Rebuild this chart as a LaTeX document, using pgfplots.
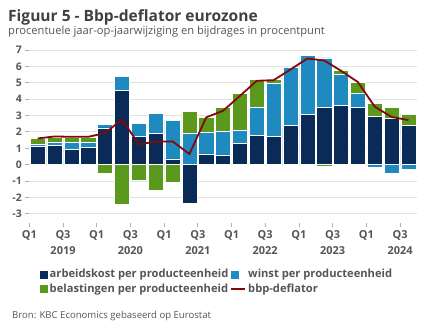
\documentclass[border=0pt]{standalone}
\usepackage{pgfplots}
\usepackage{pgfplotstable}
\pgfplotsset{compat=1.18}
\usepackage{fontspec}
\setmainfont{Open Sans}
\definecolor{navyC}{HTML}{0A2B58}
\definecolor{blueC}{HTML}{1E8ABF}
\definecolor{greenC}{HTML}{5A991C}
\definecolor{lineC}{HTML}{850808}
\definecolor{textgrey}{HTML}{555555}
\definecolor{titlegrey}{HTML}{404040}
\definecolor{gridC}{HTML}{E2E2E2}
\pgfplotstableread{
i navyN blueN greenN navyP blueP greenP line
0 0 0 0 1.12 0.12 0.37 1.60
1 0 0 0 1.16 0.20 0.29 1.72
2 0 0 0 0.91 0.43 0.31 1.70
3 0 0 0 1.04 0.30 0.35 1.70
4 0 0 -0.55 2.24 0.24 0 1.93
5 0 0 -2.40 4.55 0.82 0 2.76
6 0 0 -0.93 1.71 0.79 0 1.24
7 0 0 -1.54 1.91 1.22 0 1.40
8 0 0 -1.08 0.35 2.35 0 1.42
9 -2.38 0 0 0 1.93 1.34 0.65
10 0 0 0 0.65 1.30 0.94 2.89
11 0 0 0 0.59 1.44 1.45 3.29
12 0 0 0 1.30 0.81 2.24 4.20
13 0 0 0 1.77 1.73 1.70 5.12
14 0 0 0 1.71 3.25 0.24 5.16
15 0 0 0 2.42 3.51 0 5.81
16 0 0 -0.06 3.07 3.62 0 6.48
17 0 0 -0.10 3.50 3.02 0 6.36
18 0 0 0 3.64 1.85 0.30 5.73
19 0 0 0 3.48 0.89 0.67 5.04
20 0 -0.16 0 2.97 0 0.77 3.54
21 0 -0.51 0 2.83 0 0.69 2.91
22 0 -0.30 0 2.38 0 0.71 2.72
}\datatable
\begin{document}
\begin{tikzpicture}
\path[use as bounding box] (0,0) rectangle (432bp,-334bp);
\node[anchor=base west, font=\fontsize{15.6}{18}\selectfont\bfseries, text=titlegrey, inner sep=0] at (8bp,-21.5bp) {Figuur 5 - Bbp-deflator eurozone};
\node[anchor=base west, font=\fontsize{11.2}{13}\selectfont, text=textgrey, inner sep=0] at (8bp,-34bp) {procentuele jaar-op-jaarwijziging en bijdrages in procentpunt};
\node[anchor=base west, font=\fontsize{9.6}{11}\selectfont, text=textgrey, inner sep=0] at (12bp,-318bp) {Bron: KBC Economics gebaseerd op Eurostat};
\begin{axis}[
  at={(29.3bp,-222.6bp)}, anchor=south west,
  scale only axis, width=387.6bp, height=173.4bp,
  xmin=-0.5, xmax=22.5, ymin=-3.54, ymax=7.05,
  ybar stacked, bar width=0.9,
  axis line style={draw=none},
  ymajorgrids, grid style={gridC, line width=0.8bp},
  xtick={-0.5,1.5,3.5,5.5,7.5,9.5,11.5,13.5,15.5,17.5,19.5,21.5},
  xticklabels={Q1,{Q3\\2019},Q1,{Q3\\2020},Q1,{Q3\\2021},Q1,{Q3\\2022},Q1,{Q3\\2023},Q1,{Q3\\2024}},
  ytick={-3,-2,-1,0,1,2,3,4,5,6,7},
  yticklabels={-3,-2,-1,0,1,2,3,4,5,6,7},
  xtick pos=bottom, ytick pos=left,
  major tick length=4bp, tick align=outside,
  tick style={gray!60, line width=0.8bp},
  xticklabel style={align=center, font=\bfseries\fontsize{11}{16.5}\selectfont, text=textgrey},
  yticklabel style={font=\bfseries\fontsize{10.5}{12}\selectfont, text=textgrey},
  legend style={at={(axis description cs:0.02,-0.245)}, anchor=north west, draw=none, fill=none,
    font=\bfseries\fontsize{11.2}{13}\selectfont, text=textgrey, row sep=0.5bp,
    /tikz/every even column/.append style={column sep=0bp}},
  legend columns=2, legend cell align=left,
]
\addplot[forget plot, fill=navyC, draw=white, line width=0.5bp] table[x=i,y=navyN]{\datatable};
\addplot[forget plot, fill=blueC, draw=white, line width=0.5bp] table[x=i,y=blueN]{\datatable};
\addplot[forget plot, fill=greenC, draw=white, line width=0.5bp] table[x=i,y=greenN]{\datatable};
\addplot[fill=navyC, draw=white, line width=0.5bp, legend image code/.code={\fill[navyC] (0bp,-3.5bp) rectangle (7bp,3.5bp);}] table[x=i,y=navyP]{\datatable};
\addlegendentry{arbeidskost per producteenheid}
\addplot[fill=blueC, draw=white, line width=0.5bp, legend image code/.code={\fill[blueC] (0bp,-3.5bp) rectangle (7bp,3.5bp);}] table[x=i,y=blueP]{\datatable};
\addlegendentry{winst per producteenheid}
\addplot[fill=greenC, draw=white, line width=0.5bp, legend image code/.code={\fill[greenC] (0bp,-3.5bp) rectangle (7bp,3.5bp);}] table[x=i,y=greenP]{\datatable};
\addlegendentry{belastingen per producteenheid}
\addlegendimage{legend image code/.code={\draw[lineC, line width=1.8bp] (0bp,0bp) -- (14bp,0bp);}}
\addlegendentry{bbp-deflator}
\end{axis}
\begin{axis}[
  at={(29.3bp,-222.6bp)}, anchor=south west,
  scale only axis, width=387.6bp, height=173.4bp,
  xmin=-0.5, xmax=22.5, ymin=-3.54, ymax=7.05,
  hide axis,
]
\addplot[lineC, line width=1.8bp, mark=none, line join=round] table[x=i,y=line]{\datatable};
\end{axis}
\end{tikzpicture}
\end{document}
